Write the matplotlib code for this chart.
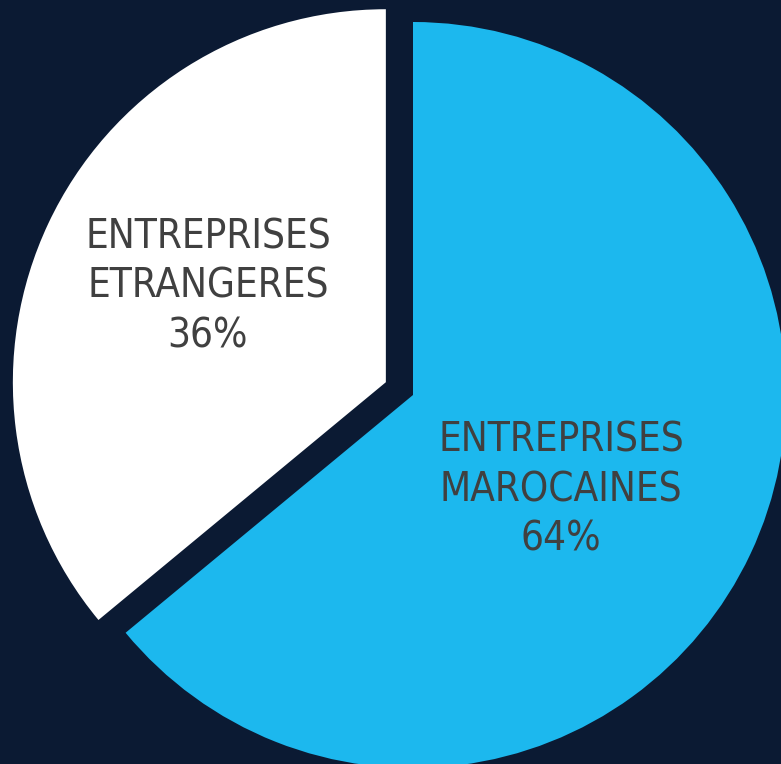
import matplotlib.pyplot as plt

labels = ["ENTREPRISES\nMAROCAINES\n64%", "ENTREPRISES\nETRANGERES\n36%"]
values = [64, 36]
colors = ["#1cb8ee", "#ffffff"]

bg = "#0b1a33"
radius = 373
explode = [0, 30]  # matplotlib pie explode is in data units

fig = plt.figure(figsize=(7.81, 7.64), dpi=100, facecolor=bg)
ax = fig.add_axes([0, 0, 1, 1])
ax.set_facecolor(bg)

wedges, _ = ax.pie(values, colors=colors, explode=explode, startangle=90,
                   counterclock=False, radius=radius, center=(413, 369),
                   wedgeprops=dict(linewidth=0), frame=True)
ax.set_xlim(0, 781)
ax.set_ylim(0, 764)
ax.set_aspect("equal")
ax.axis("off")

# label positions (figure pixels, from top-left)
label_pos = [(561, 490), (208, 287)]
for lab, (x, y) in zip(labels, label_pos):
    ax.text(x, 764 - y, lab, ha="center", va="center", fontsize=29,
            color="#404040", family="DejaVu Sans", fontstretch="condensed",
            linespacing=1.32)

fig.savefig("out.png", dpi=100, facecolor=bg)
